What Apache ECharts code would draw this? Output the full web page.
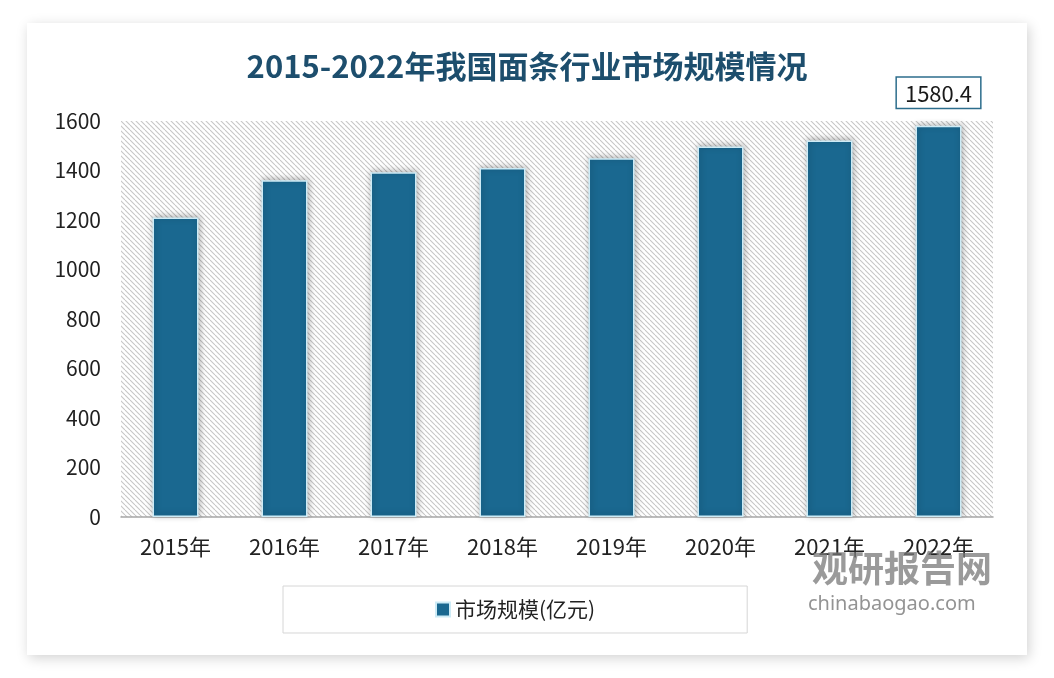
<!DOCTYPE html>
<html lang="zh">
<head>
    <meta charset="UTF-8">
    <title>2015-2022年我国面条行业市场规模情况</title>
    <script src="https://cdn.jsdelivr.net/npm/echarts@6.0.0/dist/echarts.min.js"></script>
    <style>
        html, body { margin: 0; padding: 0; background: #ffffff; }
        #main { width: 1054px; height: 678px; }
    </style>
</head>
<body>
    <div id="main"></div>
    <script>
        var years = ['2015年', '2016年', '2017年', '2018年', '2019年', '2020年', '2021年', '2022年'];
        var marketSize = [1210, 1361, 1393, 1410, 1450, 1497, 1521, 1580.4];
        var seriesName = '市场规模(亿元)';

        // diagonal hatch for the plot background
        var hatch = document.createElement('canvas');
        hatch.width = 5;
        hatch.height = 5;
        var ctx = hatch.getContext('2d');
        ctx.fillStyle = '#ffffff';
        ctx.fillRect(0, 0, 5, 5);
        ctx.strokeStyle = '#c6c6c6';
        ctx.lineWidth = 1.1;
        [-5, 0, 5].forEach(function (k) {
            ctx.beginPath();
            ctx.moveTo(k, 0);
            ctx.lineTo(k + 5, 5);
            ctx.stroke();
        });

        var chart = echarts.init(document.getElementById('main'));

        var barData = marketSize.map(function (v, i) {
            if (i === marketSize.length - 1) {
                return {
                    value: v,
                    label: {
                        show: true,
                        position: 'top',
                        distance: 18,
                        fontSize: 22,
                        color: '#1a1a1a',
                        backgroundColor: '#ffffff',
                        borderColor: '#2c6d8c',
                        borderWidth: 1.5,
                        padding: [5, 8, 3, 8]
                    }
                };
            }
            return v;
        });

        var option = {
            backgroundColor: '#ffffff',
            textStyle: { fontFamily: 'Noto Sans CJK SC, sans-serif' },
            graphic: [
                {
                    type: 'rect',
                    z: -10,
                    shape: { x: 27, y: 23, width: 1000, height: 632 },
                    style: {
                        fill: '#ffffff',
                        shadowBlur: 12,
                        shadowColor: 'rgba(0,0,0,0.18)',
                        shadowOffsetX: 2,
                        shadowOffsetY: 3
                    }
                },
                {
                    type: 'text',
                    left: 812,
                    top: 550,
                    z: 10,
                    style: {
                        text: '观研报告网',
                        fontSize: 36,
                        fontWeight: 'bold',
                        fill: 'rgba(120,120,120,0.75)',
                        fontFamily: 'Noto Sans CJK SC'
                    }
                },
                {
                    type: 'text',
                    left: 808,
                    top: 594,
                    z: 10,
                    style: {
                        text: 'chinabaogao.com',
                        fontSize: 20,
                        fill: 'rgba(120,120,120,0.8)',
                        fontFamily: 'Noto Sans'
                    }
                }
            ],
            title: {
                text: '2015-2022年我国面条行业市场规模情况',
                left: 'center',
                top: 46,
                textStyle: {
                    fontSize: 31,
                    fontWeight: 'bold',
                    color: '#1d4e6d',
                    fontFamily: 'Noto Sans CJK SC'
                }
            },
            legend: {
                data: [seriesName],
                left: 283,
                top: 586,
                padding: [13, 152, 13, 152],
                borderColor: '#d6d6d6',
                borderWidth: 1,
                itemWidth: 14,
                itemHeight: 14,
                itemGap: 6,
                icon: 'rect',
                textStyle: { fontSize: 21, color: '#222222' }
            },
            grid: {
                left: 121,
                right: 61,
                top: 121,
                bottom: 161,
                show: true,
                borderWidth: 0,
                backgroundColor: { image: hatch, repeat: 'repeat' }
            },
            xAxis: {
                type: 'category',
                data: years,
                axisLine: { lineStyle: { color: '#a6a6a6', width: 1.5 } },
                axisTick: { show: false },
                axisLabel: { fontSize: 22, color: '#222222', margin: 19 }
            },
            yAxis: {
                type: 'value',
                min: 0,
                max: 1600,
                interval: 200,
                axisLine: { show: false },
                axisTick: { show: false },
                splitLine: { show: false },
                axisLabel: {
                    fontSize: 21,
                    color: '#222222',
                    margin: 20,
                    formatter: function (v) { return String(v); }
                }
            },
            series: [{
                name: seriesName,
                type: 'bar',
                barWidth: 46,
                data: barData,
                itemStyle: {
                    color: '#1a6890',
                    borderColor: '#cdebf6',
                    borderWidth: 1.5,
                    shadowBlur: 6,
                    shadowColor: 'rgba(0,0,0,0.3)',
                    shadowOffsetX: 1,
                    shadowOffsetY: -1
                }
            }]
        };

        chart.setOption(option);
    </script>
</body>
</html>
